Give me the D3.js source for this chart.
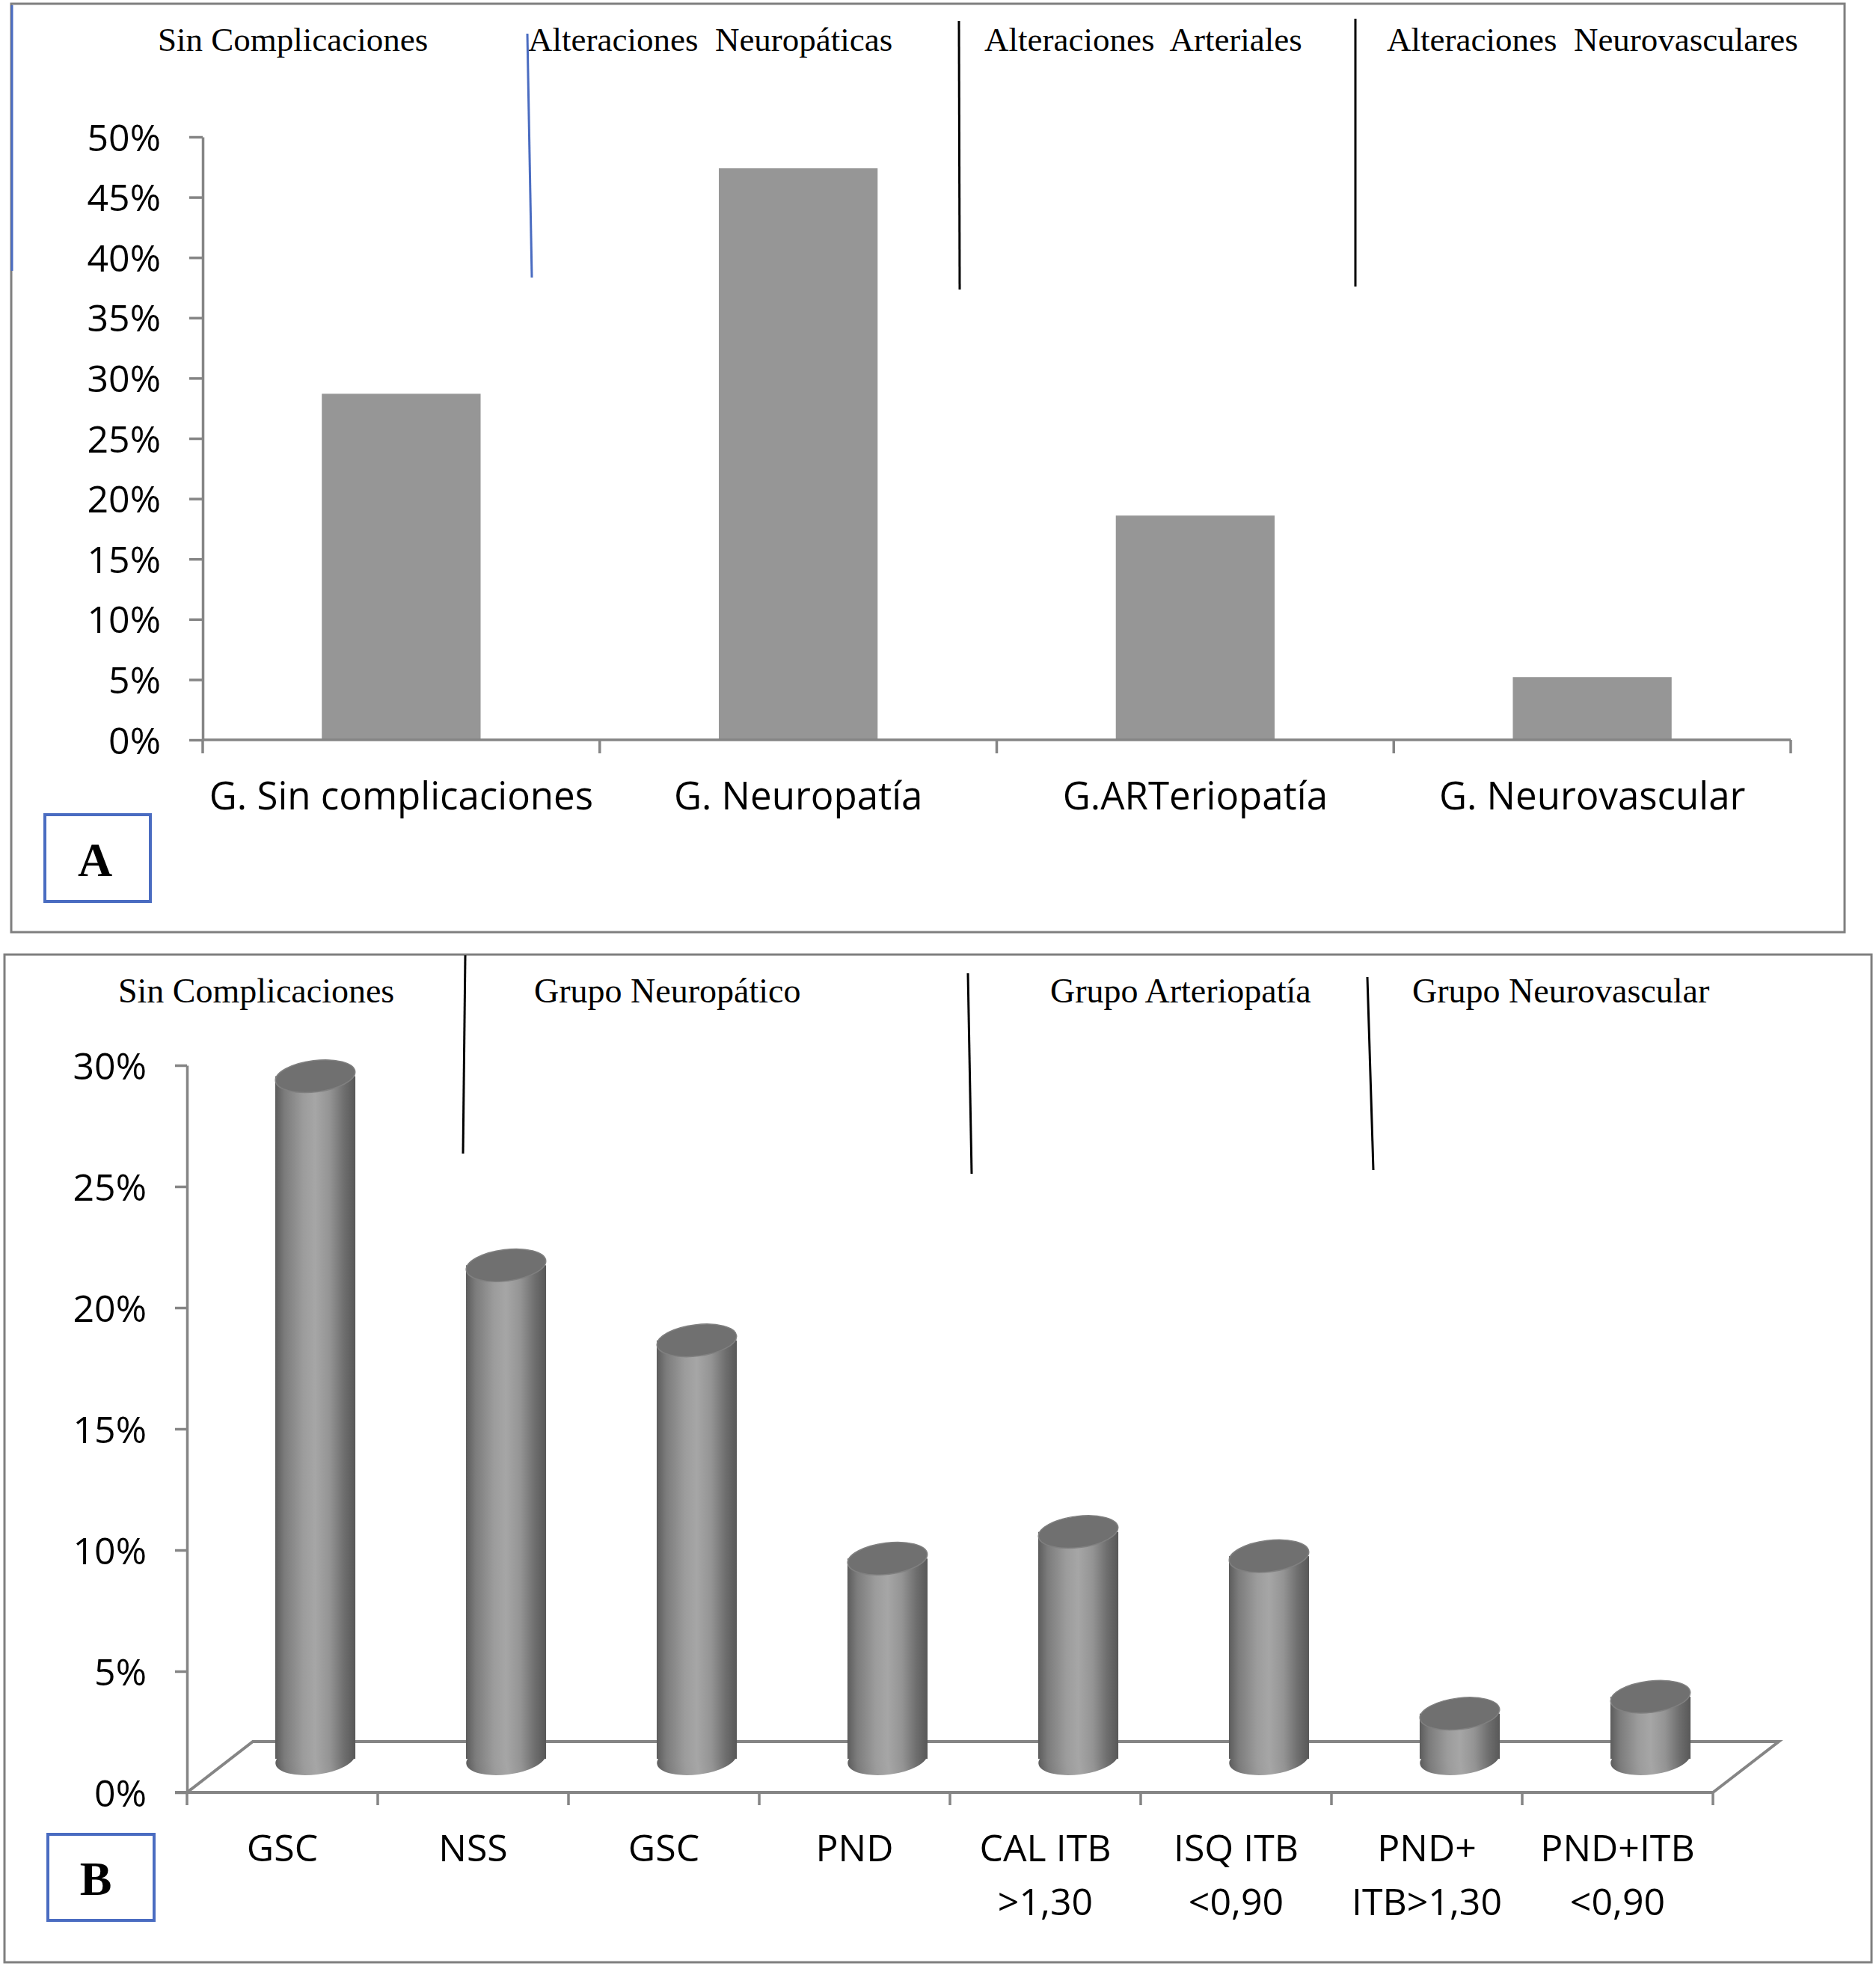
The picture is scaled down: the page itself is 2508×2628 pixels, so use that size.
<!DOCTYPE html>
<html>
<head>
<meta charset="utf-8">
<script src="https://cdn.jsdelivr.net/npm/d3@7"></script>
<style>
  html, body { margin: 0; padding: 0; background: #ffffff; }
  svg { display: block; }
  .hdr { font-family: "Liberation Serif", "Times New Roman", serif; font-size: 46px; fill: #000; white-space: pre; }
  .hdrA { font-size: 45px; }
  .lbl { font-family: "Open Sans", "Liberation Sans", sans-serif; font-size: 50px; fill: #000; }
  .cA { font-size: 51px; }
  .box { font-family: "Liberation Serif", "Times New Roman", serif; font-weight: bold; font-size: 64px; fill: #000; }
</style>
</head>
<body>
<script>
// ---------------- DATA ----------------
const catsA = ["G. Sin complicaciones", "G. Neuropatía", "G.ARTeriopatía", "G. Neurovascular"];
const valsA = [28.7, 47.4, 18.6, 5.2];
const ticksA = [0, 5, 10, 15, 20, 25, 30, 35, 40, 45, 50];
const headersA = ["Sin Complicaciones", "Alteraciones  Neuropáticas", "Alteraciones  Arteriales", "Alteraciones  Neurovasculares"];

const catsB = ["GSC", "NSS", "GSC", "PND", "CAL ITB\n>1,30", "ISQ ITB\n<0,90", "PND+\nITB>1,30", "PND+ITB\n<0,90"];
const valsB = [28.5, 20.7, 17.6, 8.6, 9.7, 8.7, 2.2, 2.9];
const ticksB = [0, 5, 10, 15, 20, 25, 30];
const headersB = ["Sin Complicaciones", "Grupo Neuropático", "Grupo Arteriopatía", "Grupo Neurovascular"];

// ---------------- SETUP ----------------
const W = 2508, H = 2628;
const AX = "#858585";
const svg = d3.select("body").append("svg").attr("width", W).attr("height", H);

const defs = svg.append("defs");
const g1 = defs.append("linearGradient").attr("id", "cyl").attr("x1", "0").attr("x2", "1").attr("y1", "0").attr("y2", "0");
[[0, "#5c5c5c"], [0.12, "#7c7c7c"], [0.35, "#9c9c9c"], [0.5, "#a6a6a6"], [0.68, "#949494"], [0.86, "#6e6e6e"], [1, "#585858"]]
  .forEach(([o, c]) => g1.append("stop").attr("offset", o).attr("stop-color", c));

// ================= PANEL A =================
svg.append("rect").attr("x", 15).attr("y", 5).attr("width", 2451).attr("height", 1241)
  .attr("fill", "none").attr("stroke", "#7f7f7f").attr("stroke-width", 3);
svg.append("line").attr("x1", 16).attr("y1", 7).attr("x2", 16).attr("y2", 362)
  .attr("stroke", "#4a6cc1").attr("stroke-width", 3);

// header texts
const hdrAx = [211, 706, 1316, 1854];
svg.selectAll("text.hA").data(headersA).join("text").attr("class", "hdr hdrA hA")
  .attr("x", (d, i) => hdrAx[i]).attr("y", 68).text(d => d);

// separators
svg.append("line").attr("x1", 705).attr("y1", 45).attr("x2", 711).attr("y2", 371).attr("stroke", "#4a6cc1").attr("stroke-width", 3);
svg.append("line").attr("x1", 1282).attr("y1", 28).attr("x2", 1283).attr("y2", 387).attr("stroke", "#000").attr("stroke-width", 3);
svg.append("line").attr("x1", 1812).attr("y1", 25).attr("x2", 1812).attr("y2", 383).attr("stroke", "#000").attr("stroke-width", 3);

const yA = d3.scaleLinear().domain([0, 50]).range([989, 183]);
const xA = d3.scaleBand().domain(catsA).range([271, 2394]).paddingInner(0.6).paddingOuter(0.3);

// bars
svg.selectAll("rect.barA").data(valsA).join("rect").attr("class", "barA")
  .attr("x", (d, i) => xA(catsA[i])).attr("width", xA.bandwidth())
  .attr("y", d => yA(d)).attr("height", d => yA(0) - yA(d))
  .attr("fill", "#969696");

// y axis
const gyA = svg.append("g").attr("transform", "translate(271,0)")
  .call(d3.axisLeft(yA).tickValues(ticksA).tickSize(18).tickSizeOuter(0).tickPadding(38).tickFormat(d => d + "%"));
gyA.select(".domain").attr("stroke", AX).attr("stroke-width", 3.5);
gyA.selectAll(".tick line").attr("stroke", AX).attr("stroke-width", 3.5);
gyA.selectAll(".tick text").attr("class", "lbl").attr("dy", "0.36em");
gyA.attr("font-size", null).attr("font-family", null);

// x axis
const stepA = xA.step();
const x0A = yA.range()[0];
svg.append("line").attr("x1", 271).attr("x2", 271 + stepA * catsA.length).attr("y1", x0A).attr("y2", x0A)
  .attr("stroke", AX).attr("stroke-width", 3.5);
svg.selectAll("line.txA").data(d3.range(catsA.length + 1)).join("line").attr("class", "txA")
  .attr("x1", i => 271 + i * stepA).attr("x2", i => 271 + i * stepA)
  .attr("y1", x0A).attr("y2", x0A + 18).attr("stroke", AX).attr("stroke-width", 3.5);
svg.selectAll("text.cA").data(catsA).join("text").attr("class", "lbl cA")
  .attr("x", d => xA(d) + xA.bandwidth() / 2).attr("y", 1082).attr("text-anchor", "middle").text(d => d);

// box A
svg.append("rect").attr("x", 60).attr("y", 1089).attr("width", 141).attr("height", 116)
  .attr("fill", "none").attr("stroke", "#4a6cc1").attr("stroke-width", 4);
svg.append("text").attr("class", "box").attr("x", 127).attr("y", 1171).attr("text-anchor", "middle").text("A");

// ================= PANEL B =================
svg.append("rect").attr("x", 6).attr("y", 1276).attr("width", 2496).attr("height", 1347)
  .attr("fill", "none").attr("stroke", "#7f7f7f").attr("stroke-width", 3);

const hdrBx = [158, 714, 1404, 1888];
svg.selectAll("text.hB").data(headersB).join("text").attr("class", "hdr hB")
  .attr("x", (d, i) => hdrBx[i]).attr("y", 1340).text(d => d);

svg.append("line").attr("x1", 622).attr("y1", 1277).attr("x2", 619).attr("y2", 1542).attr("stroke", "#000").attr("stroke-width", 3);
svg.append("line").attr("x1", 1294).attr("y1", 1301).attr("x2", 1299).attr("y2", 1569).attr("stroke", "#000").attr("stroke-width", 3);
svg.append("line").attr("x1", 1828).attr("y1", 1306).attr("x2", 1836).attr("y2", 1564).attr("stroke", "#000").attr("stroke-width", 3);

const yB = d3.scaleLinear().domain([0, 30]).range([2396, 1424]);
const xB = d3.scaleBand().domain(d3.range(catsB.length)).range([250, 2290]);
const depth = { dx: 88, dy: -68 };
const y0B = yB(0);
const xEnd = xB.range()[1];

// floor back edge and sides (behind cylinders)
svg.append("path")
  .attr("d", `M250,${y0B} L${250 + depth.dx},${y0B + depth.dy} L${xEnd + depth.dx},${y0B + depth.dy} L${xEnd},${y0B}`)
  .attr("fill", "none").attr("stroke", AX).attr("stroke-width", 4).attr("stroke-linejoin", "miter");

// cylinders
const rx = xB.bandwidth() * 0.21, ry = 21, tilt = -7;
const cyl = svg.selectAll("g.cyl").data(valsB).join("g").attr("class", "cyl");
cyl.each(function (v, i) {
  const g = d3.select(this);
  const cx = xB(i) + xB.bandwidth() / 2 + depth.dx * 0.5;
  const base = yB(0) + depth.dy * 0.66;
  const top = yB(v) + depth.dy * 0.5;
  g.append("ellipse").attr("cx", cx).attr("cy", base).attr("rx", rx).attr("ry", ry)
    .attr("transform", `rotate(${tilt},${cx},${base})`).attr("fill", "url(#cyl)");
  g.append("rect").attr("x", cx - rx).attr("y", top).attr("width", rx * 2).attr("height", base - top)
    .attr("fill", "url(#cyl)");
  g.append("ellipse").attr("cx", cx).attr("cy", top).attr("rx", rx).attr("ry", ry)
    .attr("transform", `rotate(${tilt},${cx},${top})`).attr("fill", "#707070").attr("stroke", "#808080").attr("stroke-width", 1.5);
});

// front edge / x axis
svg.append("line").attr("x1", 234).attr("x2", xEnd).attr("y1", y0B).attr("y2", y0B)
  .attr("stroke", AX).attr("stroke-width", 4);
svg.selectAll("line.txB").data(d3.range(catsB.length + 1)).join("line").attr("class", "txB")
  .attr("x1", i => 250 + i * xB.step()).attr("x2", i => 250 + i * xB.step())
  .attr("y1", y0B).attr("y2", y0B + 17).attr("stroke", AX).attr("stroke-width", 3.5);

// y axis
const gyB = svg.append("g").attr("transform", "translate(250,0)")
  .call(d3.axisLeft(yB).tickValues(ticksB).tickSize(16).tickSizeOuter(0).tickPadding(38).tickFormat(d => d + "%"));
gyB.select(".domain").attr("stroke", AX).attr("stroke-width", 3.5);
gyB.selectAll(".tick line").attr("stroke", AX).attr("stroke-width", 3.5);
gyB.selectAll(".tick text").attr("class", "lbl").attr("dy", "0.36em");
gyB.attr("font-size", null).attr("font-family", null);

// category labels
const cB = svg.selectAll("text.cB").data(catsB).join("text").attr("class", "lbl cB")
  .attr("text-anchor", "middle");
cB.each(function (d, i) {
  const t = d3.select(this);
  const cx = xB(i) + xB.bandwidth() / 2;
  d.split("\n").forEach((line, k) => {
    t.append("tspan").attr("x", cx).attr("y", 2488 + k * 72).text(line);
  });
});

// box B
svg.append("rect").attr("x", 64).attr("y", 2452).attr("width", 142).attr("height", 115)
  .attr("fill", "none").attr("stroke", "#4a6cc1").attr("stroke-width", 4);
svg.append("text").attr("class", "box").attr("x", 128).attr("y", 2533).attr("text-anchor", "middle").text("B");
</script>
</body>
</html>
